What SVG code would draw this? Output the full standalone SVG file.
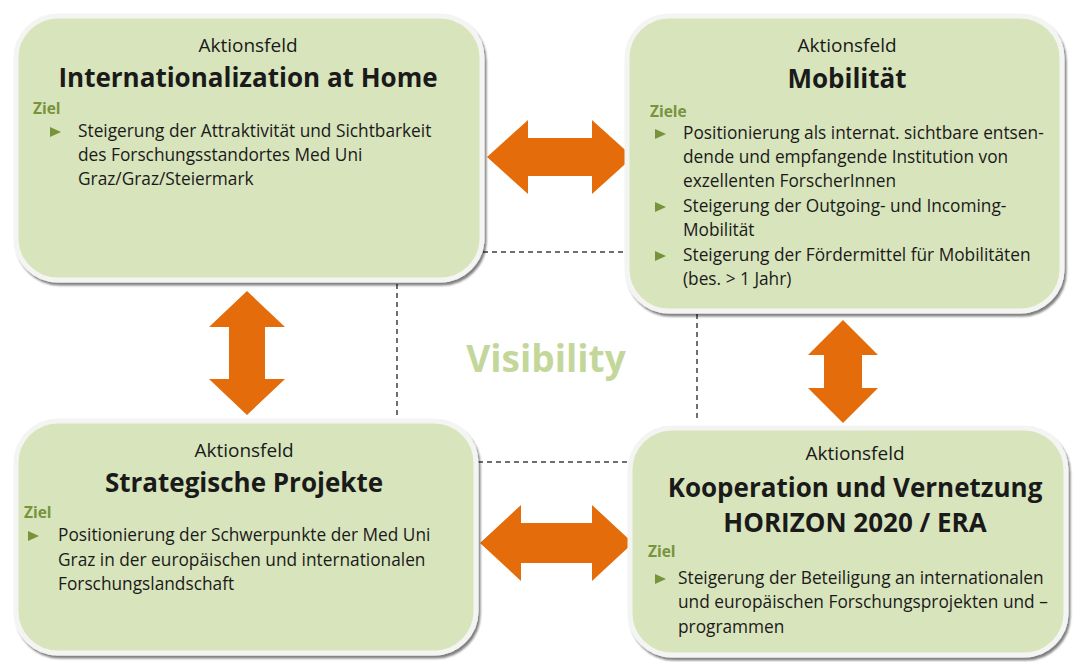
<svg xmlns="http://www.w3.org/2000/svg" width="1073" height="662" viewBox="0 0 1073 662">
<defs>
<filter id="sh" x="-5%" y="-5%" width="112%" height="115%">
<feGaussianBlur in="SourceAlpha" stdDeviation="1.3"/>
<feOffset dx="2" dy="2.5" result="b"/>
<feComponentTransfer><feFuncA type="linear" slope="0.5"/></feComponentTransfer>
<feMerge><feMergeNode/><feMergeNode in="SourceGraphic"/></feMerge>
</filter>
<polygon id="bul" points="0,-5 11,0 0,5" fill="#77933c"/>
</defs>
<style>
.box{fill:#d8e4bc;stroke:#f4f4f2;stroke-width:5;filter:url(#sh)}
.t{font-family:"Open Sans","Liberation Sans",sans-serif;fill:#1a1a1a}
.h{font-size:19px;text-anchor:middle}
.ti{font-size:26px;font-weight:bold;text-anchor:middle}
.z{font-size:15.5px;font-weight:bold;fill:#77933c}
.b{font-size:17.3px}
.arr{fill:#e46c0a}
.dash{stroke:#404040;stroke-width:1.5;stroke-dasharray:5,4;fill:none}
</style>
<rect width="1073" height="662" fill="#ffffff"/>
<g id="connectors">
<path class="dash" d="M483 252H627"/>
<path class="dash" d="M397 284V420"/>
<path class="dash" d="M697 314V422"/>
<path class="dash" d="M478 462H630"/>
<polygon class="arr" points="487,157 528,120 528,138 592,138 592,120 633,157 592,194 592,176 528,176 528,194"/>
<polygon class="arr" points="480,543 521,505 521,523 592,523 592,505 633,543 592,581 592,563 521,563 521,581"/>
<polygon class="arr" points="247,291 285,327 265,327 265,379 285,379 247,415 209,379 229,379 229,327 209,327"/>
<polygon class="arr" points="843,320 878,355 862,355 862,388 878,388 843,423 808,388 824,388 824,355 808,355"/>
</g>
<g id="visibility">
<text class="t" x="546" y="372" style="font-size:37px;font-weight:bold;fill:#c4d79b;text-anchor:middle">Visibility</text>
</g>
<g id="node-home">
<rect class="box" x="16" y="16" width="466" height="264" rx="42"/>
<text class="t h" x="248" y="52">Aktionsfeld</text>
<text class="t ti" x="248" y="87">Internationalization at Home</text>
<text class="t z" x="33" y="114">Ziel</text>
<use href="#bul" x="50" y="132"/>
<text class="t b" x="78" y="137">Steigerung der Attraktivität und Sichtbarkeit</text>
<text class="t b" x="78" y="161">des Forschungsstandortes Med Uni</text>
<text class="t b" x="78" y="185">Graz/Graz/Steiermark</text>
</g>
<g id="node-mobilitaet">
<rect class="box" x="627" y="16" width="435" height="295" rx="42"/>
<text class="t h" x="847" y="52">Aktionsfeld</text>
<text class="t ti" x="847" y="88">Mobilität</text>
<text class="t z" x="650" y="117">Ziele</text>
<use href="#bul" x="655" y="134"/>
<text class="t b" x="683" y="139">Positionierung als internat. sichtbare entsen-</text>
<text class="t b" x="683" y="163">dende und empfangende Institution von</text>
<text class="t b" x="683" y="187">exzellenten ForscherInnen</text>
<use href="#bul" x="655" y="207"/>
<text class="t b" x="683" y="212">Steigerung der Outgoing- und Incoming-</text>
<text class="t b" x="683" y="236">Mobilität</text>
<use href="#bul" x="655" y="256"/>
<text class="t b" x="683" y="261">Steigerung der Fördermittel für Mobilitäten</text>
<text class="t b" x="683" y="285">(bes. &gt; 1 Jahr)</text>
</g>
<g id="node-strategisch">
<rect class="box" x="16" y="421" width="460" height="232" rx="42"/>
<text class="t h" x="244" y="457">Aktionsfeld</text>
<text class="t ti" x="244" y="492">Strategische Projekte</text>
<text class="t z" x="24" y="518">Ziel</text>
<use href="#bul" x="28" y="536"/>
<text class="t b" x="58" y="541">Positionierung der Schwerpunkte der Med Uni</text>
<text class="t b" x="58" y="566">Graz in der europäischen und internationalen</text>
<text class="t b" x="58" y="590">Forschungslandschaft</text>
</g>
<g id="node-kooperation">
<rect class="box" x="630" y="428" width="436" height="227" rx="42"/>
<text class="t h" x="855" y="460">Aktionsfeld</text>
<text class="t ti" x="855" y="497">Kooperation und Vernetzung</text>
<text class="t ti" x="855" y="532">HORIZON 2020 / ERA</text>
<text class="t z" x="648" y="557">Ziel</text>
<use href="#bul" x="655" y="579"/>
<text class="t b" x="678" y="584">Steigerung der Beteiligung an internationalen</text>
<text class="t b" x="678" y="608">und europäischen Forschungsprojekten und –</text>
<text class="t b" x="678" y="633">programmen</text>
</g>
</svg>
